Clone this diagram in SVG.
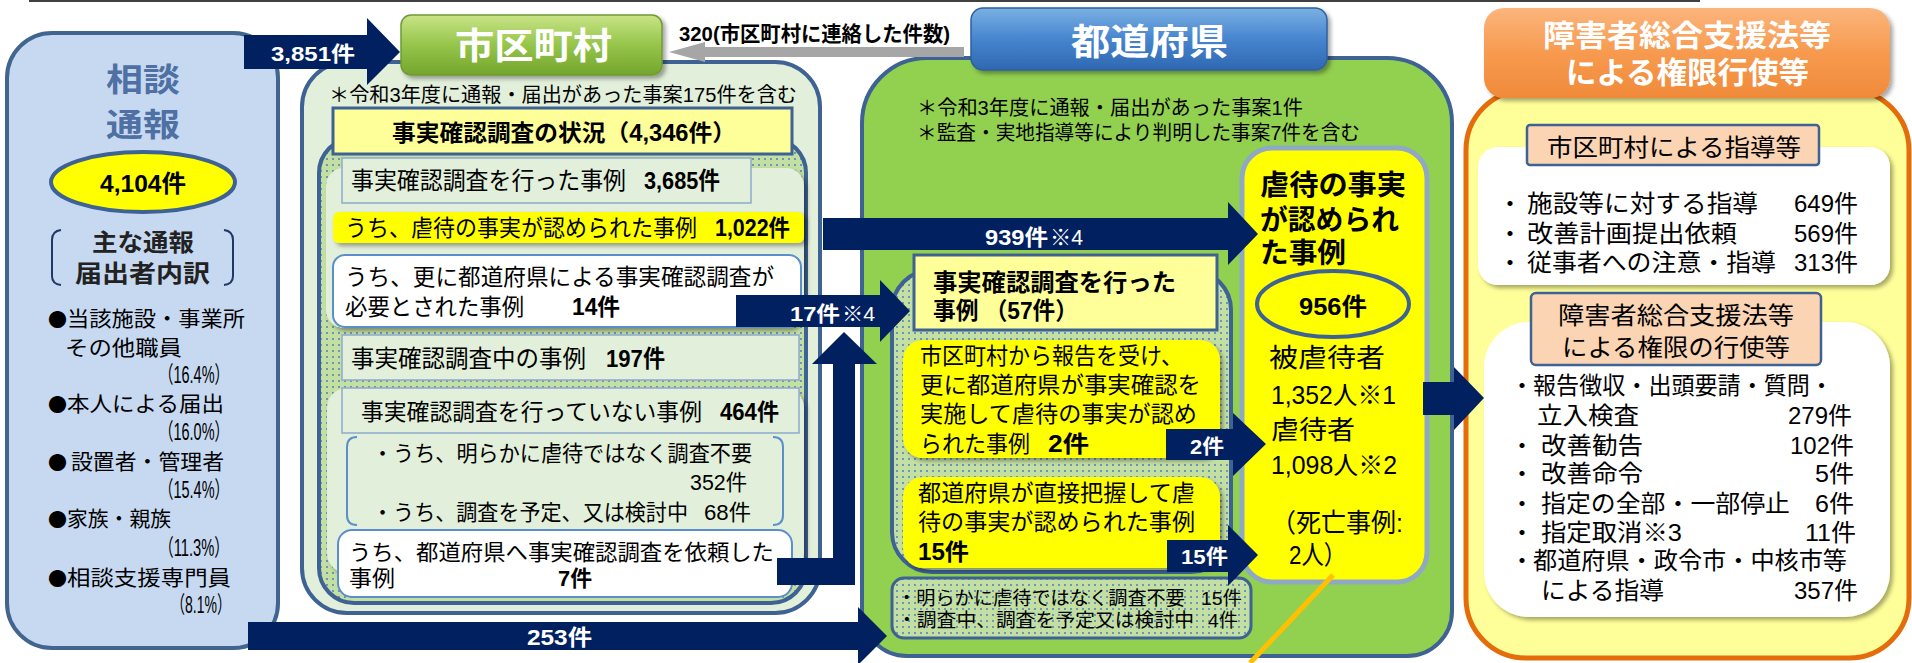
<svg xmlns="http://www.w3.org/2000/svg" width="1912" height="663" viewBox="0 0 1912 663">
<style>
text,tspan{font-family:"Liberation Sans","Noto Sans CJK JP",sans-serif;dominant-baseline:central}
text{fill:#000}
.b{font-weight:700}
.w{fill:#fff}
.dot{font-family:"Noto Sans CJK JP",sans-serif;font-size:19px}
.nv{fill:#002060}
.pb{stroke:#3d6293;stroke-width:4}
.lg{fill:#e2efda}
.box{fill:#e2efda;stroke:#8eaacb;stroke-width:1.5}
.wb{fill:#fff;stroke:#5b8fcb;stroke-width:2}
.peach{fill:#fbd4b4;stroke:#3d6293;stroke-width:2.5}
</style>
<defs>
<pattern id="dots" width="6" height="6" patternUnits="userSpaceOnUse">
<rect width="6" height="6" fill="#c4dfa2"/>
<circle cx="3" cy="3" r="0.9" fill="#4472c4"/>
</pattern>
<linearGradient id="gGreen" x1="0" y1="0" x2="0" y2="1">
<stop offset="0" stop-color="#c9e487"/><stop offset="0.5" stop-color="#95c54a"/><stop offset="1" stop-color="#74a52c"/>
</linearGradient>
<linearGradient id="gBlue" x1="0" y1="0" x2="0" y2="1">
<stop offset="0" stop-color="#7ab0e2"/><stop offset="0.5" stop-color="#4685cf"/><stop offset="1" stop-color="#2e68b0"/>
</linearGradient>
<linearGradient id="gOrange" x1="0" y1="0" x2="0" y2="1">
<stop offset="0" stop-color="#fbb57c"/><stop offset="0.5" stop-color="#f79a4f"/><stop offset="1" stop-color="#f08a3a"/>
</linearGradient>
<filter id="sh" x="-10%" y="-10%" width="130%" height="140%">
<feDropShadow dx="3" dy="3" stdDeviation="2" flood-color="#000" flood-opacity="0.35"/>
</filter>
</defs>

<path d="M29,1 L1700,1" stroke="#404040" stroke-width="2"/>

<g id="soudan">
<rect x="7" y="33" width="271" height="615" rx="45" fill="#c6d9f1" stroke="#41658f" stroke-width="4"/>
<text class="b" font-size="32" style="fill:#4e70a3"><tspan x="106" y="80" textLength="74" lengthAdjust="spacingAndGlyphs">相談</tspan><tspan x="106" y="125" textLength="74" lengthAdjust="spacingAndGlyphs">通報</tspan></text>
<ellipse cx="143" cy="182" rx="92" ry="30" fill="#ffff00" stroke="#3d6293" stroke-width="4"/>
<text class="b" x="100" y="183" font-size="24" textLength="86" lengthAdjust="spacingAndGlyphs">4,104件</text>
<path d="M61,230 Q52,231 52,240 L52,276 Q52,284 61,285 M224,230 Q233,231 233,240 L233,276 Q233,284 224,285" fill="none" stroke="#1f3864" stroke-width="2"/>
<text class="b" font-size="24" style="fill:#222"><tspan x="92" y="242" textLength="102" lengthAdjust="spacingAndGlyphs">主な通報</tspan><tspan x="75" y="273" textLength="135" lengthAdjust="spacingAndGlyphs">届出者内訳</tspan></text>
<text font-size="21">
<tspan class="dot" x="48" y="318">●</tspan><tspan x="67" y="318" textLength="178" lengthAdjust="spacingAndGlyphs">当該施設・事業所</tspan>
<tspan x="65" y="347" textLength="117" lengthAdjust="spacingAndGlyphs">その他職員</tspan>
<tspan x="159" y="375" font-size="23" textLength="70" lengthAdjust="spacingAndGlyphs">（16.4%）</tspan>
<tspan class="dot" x="48" y="403">●</tspan><tspan x="67" y="403" textLength="157" lengthAdjust="spacingAndGlyphs">本人による届出</tspan>
<tspan x="159" y="432" font-size="23" textLength="70" lengthAdjust="spacingAndGlyphs">（16.0%）</tspan>
<tspan class="dot" x="48" y="461">●</tspan><tspan x="71" y="461" textLength="153" lengthAdjust="spacingAndGlyphs">設置者・管理者</tspan>
<tspan x="159" y="490" font-size="23" textLength="70" lengthAdjust="spacingAndGlyphs">（15.4%）</tspan>
<tspan class="dot" x="48" y="518">●</tspan><tspan x="67" y="518" textLength="104" lengthAdjust="spacingAndGlyphs">家族・親族</tspan>
<tspan x="159" y="548" font-size="23" textLength="70" lengthAdjust="spacingAndGlyphs">（11.3%）</tspan>
<tspan class="dot" x="48" y="577">●</tspan><tspan x="67" y="577" textLength="164" lengthAdjust="spacingAndGlyphs">相談支援専門員</tspan>
<tspan x="171" y="605" font-size="23" textLength="60" lengthAdjust="spacingAndGlyphs">（8.1%）</tspan>
</text>
</g>

<g id="shikuchoson">
<rect x="302" y="62" width="518" height="551" rx="45" class="lg pb"/>
<text x="329" y="95" font-size="20" textLength="468" lengthAdjust="spacingAndGlyphs">＊令和3年度に通報・届出があった事案175件を含む</text>
<rect x="319" y="138" width="487" height="465" rx="35" fill="url(#dots)" class="pb"/>
<rect x="333" y="108" width="459" height="46" fill="#ffff99" stroke="#3d6293" stroke-width="3"/>
<text class="b" x="392" y="133" font-size="23" textLength="344" lengthAdjust="spacingAndGlyphs">事実確認調査の状況（4,346件）</text>
<rect x="326" y="168" width="478" height="160" rx="18" class="lg" filter="url(#sh)"/>
<rect x="342" y="158" width="409" height="45" class="box"/>
<text font-size="24"><tspan x="351" y="180" textLength="275" lengthAdjust="spacingAndGlyphs">事実確認調査を行った事例</tspan><tspan class="b" x="644" y="180" textLength="76" lengthAdjust="spacingAndGlyphs">3,685件</tspan></text>
<rect x="333" y="212" width="471" height="31" rx="6" fill="#ffff00" filter="url(#sh)"/>
<text font-size="23"><tspan x="345" y="228" textLength="352" lengthAdjust="spacingAndGlyphs">うち、虐待の事実が認められた事例</tspan><tspan class="b" x="715" y="228" textLength="75" lengthAdjust="spacingAndGlyphs">1,022件</tspan></text>
<rect x="333" y="255" width="468" height="72" rx="12" class="wb"/>
<text font-size="23"><tspan x="345" y="277" textLength="429" lengthAdjust="spacingAndGlyphs">うち、更に都道府県による事実確認調査が</tspan><tspan x="345" y="307" textLength="179" lengthAdjust="spacingAndGlyphs">必要とされた事例</tspan><tspan class="b" x="572" y="307" textLength="48" lengthAdjust="spacingAndGlyphs">14件</tspan></text>
<rect x="342" y="335" width="457" height="45" class="box"/>
<text font-size="24"><tspan x="351" y="358" textLength="235" lengthAdjust="spacingAndGlyphs">事実確認調査中の事例</tspan><tspan class="b" x="606" y="358" textLength="59" lengthAdjust="spacingAndGlyphs">197件</tspan></text>
<rect x="327" y="388" width="477" height="185" rx="20" class="lg" filter="url(#sh)"/>
<rect x="342" y="388" width="457" height="45" class="box"/>
<text font-size="23"><tspan x="361" y="412" textLength="341" lengthAdjust="spacingAndGlyphs">事実確認調査を行っていない事例</tspan><tspan class="b" x="720" y="412" textLength="59" lengthAdjust="spacingAndGlyphs">464件</tspan></text>
<path d="M357,437 Q347,437 347,447 L347,515 Q347,525 357,525 M773,437 Q783,437 783,447 L783,515 Q783,525 773,525" fill="none" stroke="#5b8fcb" stroke-width="2"/>
<text font-size="22"><tspan x="372" y="453" textLength="380" lengthAdjust="spacingAndGlyphs">・うち、明らかに虐待ではなく調査不要</tspan><tspan x="690" y="482" textLength="57" lengthAdjust="spacingAndGlyphs">352件</tspan><tspan x="372" y="512" textLength="316" lengthAdjust="spacingAndGlyphs">・うち、調査を予定、又は検討中</tspan><tspan x="704" y="512" textLength="47" lengthAdjust="spacingAndGlyphs">68件</tspan></text>
<rect x="338" y="530" width="454" height="67" rx="14" class="wb"/>
<text font-size="22"><tspan x="349" y="552" textLength="425" lengthAdjust="spacingAndGlyphs">うち、都道府県へ事実確認調査を依頼した</tspan><tspan x="349" y="578" textLength="46" lengthAdjust="spacingAndGlyphs">事例</tspan><tspan class="b" x="558" y="578" textLength="34" lengthAdjust="spacingAndGlyphs">7件</tspan></text>
<rect x="401" y="15" width="261" height="60" rx="10" fill="url(#gGreen)" stroke="#6f9a36" stroke-width="1.5" filter="url(#sh)"/>
<text class="b w" x="455" y="46" font-size="36" textLength="157" lengthAdjust="spacingAndGlyphs">市区町村</text>
</g>

<g id="todofuken">
<path d="M862,123 A65,65 0 0 1 927,58 L1387,58 A65,65 0 0 1 1452,123 L1452,611 A45,45 0 0 1 1407,656 L907,656 A45,45 0 0 1 862,611 Z" fill="#92d050" class="pb"/>
<text font-size="20"><tspan x="917" y="108" textLength="386" lengthAdjust="spacingAndGlyphs">＊令和3年度に通報・届出があった事案1件</tspan><tspan x="917" y="133" textLength="443" lengthAdjust="spacingAndGlyphs">＊監査・実地指導等により判明した事案7件を含む</tspan></text>
<rect x="1242" y="148" width="185" height="434" rx="30" fill="#ffff00" stroke="#8fa9c4" stroke-width="5"/>
<text class="b" font-size="28"><tspan x="1260" y="185" textLength="146" lengthAdjust="spacingAndGlyphs">虐待の事実</tspan><tspan x="1260" y="220" textLength="139" lengthAdjust="spacingAndGlyphs">が認められ</tspan><tspan x="1260" y="253" textLength="86" lengthAdjust="spacingAndGlyphs">た事例</tspan></text>
<ellipse cx="1333" cy="304" rx="76" ry="33" fill="#ffff00" stroke="#3d6293" stroke-width="4"/>
<text class="b" x="1299" y="306" font-size="24" textLength="68" lengthAdjust="spacingAndGlyphs">956件</text>
<text font-size="26">
<tspan x="1269" y="358" textLength="116" lengthAdjust="spacingAndGlyphs">被虐待者</tspan>
<tspan x="1271" y="395" font-size="25" textLength="125" lengthAdjust="spacingAndGlyphs">1,352人※1</tspan>
<tspan x="1271" y="430" textLength="84" lengthAdjust="spacingAndGlyphs">虐待者</tspan>
<tspan x="1271" y="465" font-size="25" textLength="126" lengthAdjust="spacingAndGlyphs">1,098人※2</tspan>
<tspan x="1271" y="523" textLength="132" lengthAdjust="spacingAndGlyphs">（死亡事例:</tspan>
<tspan x="1289" y="555" textLength="57" lengthAdjust="spacingAndGlyphs">2人）</tspan>
</text>
<rect x="892" y="270" width="339" height="302" rx="40" fill="url(#dots)" class="pb"/>
<rect x="914" y="255" width="303" height="75" fill="#ffff99" stroke="#3d6293" stroke-width="3"/>
<text class="b" font-size="24"><tspan x="933" y="282" textLength="243" lengthAdjust="spacingAndGlyphs">事実確認調査を行った</tspan><tspan x="933" y="310" textLength="145" lengthAdjust="spacingAndGlyphs">事例 （57件）</tspan></text>
<rect x="903" y="340" width="317" height="118" rx="20" fill="#ffff00" filter="url(#sh)"/>
<text font-size="23"><tspan x="920" y="356" textLength="263" lengthAdjust="spacingAndGlyphs">市区町村から報告を受け、</tspan><tspan x="920" y="385" textLength="281" lengthAdjust="spacingAndGlyphs">更に都道府県が事実確認を</tspan><tspan x="920" y="414" textLength="277" lengthAdjust="spacingAndGlyphs">実施して虐待の事実が認め</tspan><tspan x="920" y="444" textLength="110" lengthAdjust="spacingAndGlyphs">られた事例</tspan><tspan class="b" x="1048" y="444" textLength="41" lengthAdjust="spacingAndGlyphs">2件</tspan></text>
<rect x="903" y="477" width="317" height="91" rx="20" fill="#ffff00" filter="url(#sh)"/>
<text font-size="23"><tspan x="918" y="493" textLength="277" lengthAdjust="spacingAndGlyphs">都道府県が直接把握して虐</tspan><tspan x="918" y="522" textLength="277" lengthAdjust="spacingAndGlyphs">待の事実が認められた事例</tspan><tspan class="b" x="918" y="552" textLength="51" lengthAdjust="spacingAndGlyphs">15件</tspan></text>
<rect x="892" y="578" width="359" height="60" rx="12" fill="url(#dots)" stroke="#3d6293" stroke-width="3"/>
<text font-size="19"><tspan x="897" y="598" textLength="288" lengthAdjust="spacingAndGlyphs">・明らかに虐待ではなく調査不要</tspan><tspan x="1201" y="598" textLength="41" lengthAdjust="spacingAndGlyphs">15件</tspan><tspan x="897" y="620" textLength="297" lengthAdjust="spacingAndGlyphs">・調査中、調査を予定又は検討中</tspan><tspan x="1208" y="620" textLength="30" lengthAdjust="spacingAndGlyphs">4件</tspan></text>
<rect x="971" y="8" width="356" height="62" rx="12" fill="url(#gBlue)" stroke="#2f5f9e" stroke-width="1.5" filter="url(#sh)"/>
<text class="b w" x="1071" y="42" font-size="36" textLength="157" lengthAdjust="spacingAndGlyphs">都道府県</text>
</g>

<g id="kengen">
<rect x="1466" y="90" width="443" height="568" rx="60" fill="#ffff99" stroke="#e46c0a" stroke-width="5"/>
<rect x="1484" y="8" width="406" height="90" rx="20" fill="url(#gOrange)" filter="url(#sh)"/>
<text class="b w" font-size="30"><tspan x="1543" y="35" textLength="288" lengthAdjust="spacingAndGlyphs">障害者総合支援法等</tspan><tspan x="1566" y="72" textLength="243" lengthAdjust="spacingAndGlyphs">による権限行使等</tspan></text>
<rect x="1478" y="147" width="412" height="138" rx="20" fill="#fff" filter="url(#sh)"/>
<rect x="1527" y="125" width="292" height="40" rx="3" class="peach"/>
<text x="1547" y="147" font-size="24" textLength="254" lengthAdjust="spacingAndGlyphs">市区町村による指導等</text>
<text font-size="24">
<tspan x="1498" y="203">・</tspan><tspan x="1527" y="203" textLength="231" lengthAdjust="spacingAndGlyphs">施設等に対する指導</tspan><tspan x="1794" y="203" textLength="64" lengthAdjust="spacingAndGlyphs">649件</tspan>
<tspan x="1498" y="233">・</tspan><tspan x="1527" y="233" textLength="210" lengthAdjust="spacingAndGlyphs">改善計画提出依頼</tspan><tspan x="1794" y="233" textLength="64" lengthAdjust="spacingAndGlyphs">569件</tspan>
<tspan x="1498" y="262">・</tspan><tspan x="1527" y="262" textLength="249" lengthAdjust="spacingAndGlyphs">従事者への注意・指導</tspan><tspan x="1794" y="262" textLength="64" lengthAdjust="spacingAndGlyphs">313件</tspan>
</text>
<rect x="1484" y="322" width="406" height="295" rx="45" fill="#fff" filter="url(#sh)"/>
<rect x="1531" y="293" width="290" height="72" rx="5" class="peach"/>
<text font-size="24"><tspan x="1558" y="315" textLength="236" lengthAdjust="spacingAndGlyphs">障害者総合支援法等</tspan><tspan x="1562" y="347" textLength="228" lengthAdjust="spacingAndGlyphs">による権限の行使等</tspan></text>
<text font-size="24">
<tspan x="1510" y="385">・</tspan><tspan x="1533" y="385" textLength="300" lengthAdjust="spacingAndGlyphs">報告徴収・出頭要請・質問・</tspan>
<tspan x="1537" y="415" textLength="102" lengthAdjust="spacingAndGlyphs">立入検査</tspan><tspan x="1788" y="415" textLength="64" lengthAdjust="spacingAndGlyphs">279件</tspan>
<tspan x="1510" y="445">・</tspan><tspan x="1541" y="445" textLength="102" lengthAdjust="spacingAndGlyphs">改善勧告</tspan><tspan x="1790" y="445" textLength="64" lengthAdjust="spacingAndGlyphs">102件</tspan>
<tspan x="1510" y="473">・</tspan><tspan x="1541" y="473" textLength="102" lengthAdjust="spacingAndGlyphs">改善命令</tspan><tspan x="1815" y="473" textLength="39" lengthAdjust="spacingAndGlyphs">5件</tspan>
<tspan x="1510" y="503">・</tspan><tspan x="1541" y="503" textLength="249" lengthAdjust="spacingAndGlyphs">指定の全部・一部停止</tspan><tspan x="1815" y="503" textLength="39" lengthAdjust="spacingAndGlyphs">6件</tspan>
<tspan x="1510" y="532">・</tspan><tspan x="1541" y="532" textLength="141" lengthAdjust="spacingAndGlyphs">指定取消※3</tspan><tspan x="1805" y="532" textLength="51" lengthAdjust="spacingAndGlyphs">11件</tspan>
<tspan x="1510" y="560">・</tspan><tspan x="1533" y="560" textLength="314" lengthAdjust="spacingAndGlyphs">都道府県・政令市・中核市等</tspan>
<tspan x="1541" y="590" textLength="123" lengthAdjust="spacingAndGlyphs">による指導</tspan><tspan x="1794" y="590" textLength="64" lengthAdjust="spacingAndGlyphs">357件</tspan>
</text>
</g>

<g id="connectors">
<path class="nv" d="M244,35 L367,35 L367,18 L400,52 L367,85 L367,69 L244,69 Z"/>
<text class="b w" x="271" y="53" font-size="21" textLength="84" lengthAdjust="spacingAndGlyphs">3,851件</text>
<path fill="#a6a6a6" d="M669,52 L705,42 L705,47 L964,47 L964,57 L705,57 L705,62 Z"/>
<text class="b" x="679" y="33" font-size="21" textLength="271" lengthAdjust="spacingAndGlyphs">320(市区町村に連絡した件数)</text>
<path class="nv" d="M823,218 L1228,218 L1228,202 L1258,234 L1228,265 L1228,250 L823,250 Z"/>
<text class="w" font-size="22"><tspan class="b" x="985" y="237" textLength="63" lengthAdjust="spacingAndGlyphs">939件</tspan><tspan x="1050" y="237" textLength="33" lengthAdjust="spacingAndGlyphs">※4</tspan></text>
<path class="nv" d="M736,295 L880,295 L880,280 L910,311 L880,342 L880,327 L736,327 Z"/>
<text class="w" font-size="21"><tspan class="b" x="790" y="313" textLength="50" lengthAdjust="spacingAndGlyphs">17件</tspan><tspan x="842" y="313" textLength="33" lengthAdjust="spacingAndGlyphs">※4</tspan></text>
<path class="nv" d="M777,558 L833,558 L833,364 L812,364 L844,332 L877,364 L855,364 L855,585 L777,585 Z"/>
<path class="nv" d="M248,622 L858,622 L858,607 L887,636 L858,665 L858,650 L248,650 Z"/>
<text class="b w" x="527" y="637" font-size="22" textLength="65" lengthAdjust="spacingAndGlyphs">253件</text>
<path class="nv" d="M1166,429 L1233,429 L1233,413 L1266,444 L1233,476 L1233,460 L1166,460 Z"/>
<text class="b w" x="1190" y="447" font-size="20" textLength="34" lengthAdjust="spacingAndGlyphs">2件</text>
<path class="nv" d="M1167,540 L1228,540 L1228,525 L1258,555 L1228,586 L1228,572 L1167,572 Z"/>
<text class="b w" x="1181" y="557" font-size="20" textLength="47" lengthAdjust="spacingAndGlyphs">15件</text>
<path class="nv" d="M1423,382 L1454,382 L1454,367 L1484,398 L1454,430 L1454,415 L1423,415 Z"/>
<path d="M1333,575 L1250,663" stroke="#ffc000" stroke-width="5"/>
</g>
</svg>
